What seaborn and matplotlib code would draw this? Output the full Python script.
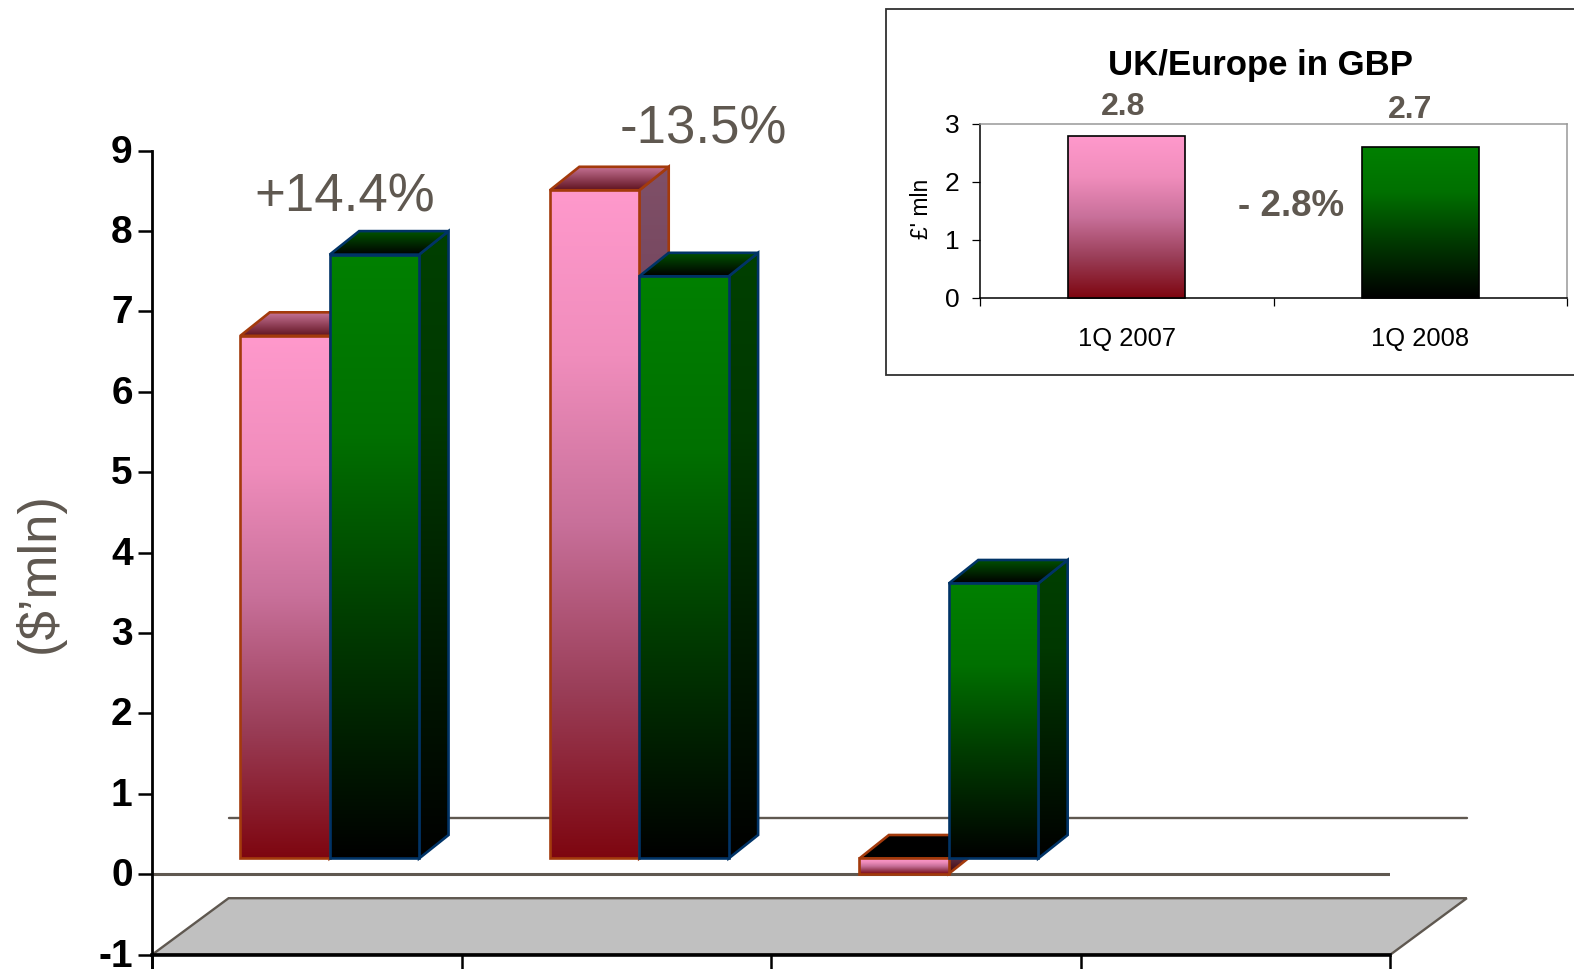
import numpy as np
import pandas as pd
import matplotlib
matplotlib.use("Agg")
import matplotlib.pyplot as plt
from matplotlib.colors import LinearSegmentedColormap, ListedColormap, to_hex
from matplotlib.patches import Polygon, Rectangle
from matplotlib.transforms import Affine2D, IdentityTransform
import seaborn as sns

# ---------- data ----------
categories = ["A", "B", "C", "D"]
series_names = ["1Q 2007", "1Q 2008"]
series_2007 = [6.5, 8.31, -0.19, np.nan]
series_2008 = [7.51, 7.24, 3.42, np.nan]
main_ticks = [-1, 0, 1, 2, 3, 4, 5, 6, 7, 8, 9]

inset_periods = ["1Q 2007", "1Q 2008"]
inset_values = [2.79, 2.60]
inset_labels = ["2.8", "2.7"]
inset_ticks = [0, 1, 2, 3]

# ---------- style ----------
W, H = 1574, 969
sns.set_style("white")
plt.rcParams["font.family"] = ["Liberation Sans", "DejaVu Sans"]
GREY = "#5F5850"
PINK_EDGE = "#A33A0C"
GREEN_EDGE = "#003366"

fig = plt.figure(figsize=(W / 100, H / 100), dpi=100, facecolor="white")


def axes_px(left, right, top, bottom):
    return fig.add_axes([left / W, 1 - bottom / H, (right - left) / W, (bottom - top) / H])


def ftext(x, y, s, **kw):
    kw.setdefault("ha", "center")
    kw.setdefault("va", "center")
    fig.text(x / W, 1 - y / H, s, **kw)


pink_cm = LinearSegmentedColormap.from_list(
    "p", [(0, "#7E0610"), (0.25, "#9A3E58"), (0.5, "#C8709A"), (0.75, "#F08DBC"), (1, "#FF99CC")])
green_cm = LinearSegmentedColormap.from_list(
    "g", [(0, "#000000"), (0.4, "#003E00"), (0.7, "#007000"), (1, "#008000")])
pink_side = LinearSegmentedColormap.from_list(
    "ps", [(0, "#400308"), (0.5, "#643850"), (1, "#805068")])
green_side = LinearSegmentedColormap.from_list(
    "gs", [(0, "#000000"), (0.4, "#001F00"), (0.7, "#003800"), (1, "#004000")])
pink_top = LinearSegmentedColormap.from_list("pt", ["#601420", "#C87498"])
green_top = LinearSegmentedColormap.from_list("gt", ["#000000", "#005400"])
black_top = ListedColormap(["#000000"])
ramp = np.linspace(1, 0, 256).reshape(-1, 1)


def shade(ax, pts, cmap, edge, z, lw=1.9):
    """Fill a polygon given in display pixels with a vertical gradient."""
    pts = np.asarray(pts)
    poly = Polygon(pts, closed=True, transform=IdentityTransform(), facecolor="none",
                   edgecolor=edge, lw=lw, zorder=z + 0.1, clip_on=False, joinstyle="miter")
    ax.add_patch(poly)
    im = ax.imshow(ramp, cmap=cmap, vmin=0, vmax=1, aspect="auto", interpolation="bilinear",
                   extent=(pts[:, 0].min(), pts[:, 0].max(), pts[:, 1].min(), pts[:, 1].max()),
                   transform=IdentityTransform(), zorder=z)
    im.set_clip_path(poly)


# ---------- main chart ----------
ax = axes_px(152.1, 1390.3, 150.6, 954.7)
main_df = pd.DataFrame({
    "category": categories * 2,
    "series": [series_names[0]] * 4 + [series_names[1]] * 4,
    "value": series_2007 + series_2008,
})
sns.barplot(data=main_df, x="category", y="value", hue="series", order=categories,
            hue_order=series_names, palette=["#FF99CC", "#008000"], width=0.5775, gap=0,
            saturation=1, legend=False, ax=ax, errorbar=None)
ax.set_xlim(-0.5, 3.5)
ax.set_ylim(-1, 9)
ax.set_xlabel("")
ax.set_ylabel("")
ax.set_xticks([-0.5, 0.5, 1.5, 2.5, 3.5], [""] * 5)
ax.set_yticks(main_ticks)
ax.set_yticklabels([str(t) for t in main_ticks], fontsize=28, fontweight="bold", color="black")
ax.tick_params(axis="both", which="major", direction="out", length=10, width=1.8,
               color="black", left=True, bottom=True, pad=4)
for lab in ax.get_yticklabels():
    lab.set_transform(lab.get_transform() + Affine2D().translate(0, 2))
ax.spines["top"].set_visible(False)
ax.spines["right"].set_visible(False)
ax.spines["left"].set_color("black")
ax.spines["bottom"].set_color("black")
ax.spines["left"].set_linewidth(2.0)
ax.spines["bottom"].set_linewidth(2.6)
ax.spines["left"].set_bounds(-1.18, 9)
ax.patch.set_alpha(0)

# depth constants (px): floor depth, bar base shift, bar depth
FLOOR = np.array([76.5, 56.5])
SHIFT = np.array([22.8, 15.8])
DEPTH = np.array([29.5, 23.5])


def px(x, y):
    return ax.transData.transform((x, y))


x0, x1 = ax.get_xlim()
ymin = ax.get_ylim()[0]
floor_pts = [px(x0, ymin), px(x1, ymin), px(x1, ymin) + FLOOR, px(x0, ymin) + FLOOR]
ax.add_patch(Polygon(floor_pts, closed=True, transform=IdentityTransform(), facecolor="#C0C0C0",
                     edgecolor=GREY, lw=1.7, zorder=1, clip_on=False))
ax.axhline(0, color=GREY, lw=2.2, zorder=1.2)
wall = np.array([px(x0, 0) + FLOOR, px(x1, 0) + FLOOR])
ax.plot(wall[:, 0], wall[:, 1], transform=IdentityTransform(), color=GREY, lw=1.7,
        zorder=1.2, clip_on=False, scalex=False, scaley=False)

bars = sorted([p for p in ax.patches if isinstance(p, Rectangle) and p.get_width() > 0
               and np.isfinite(p.get_height())], key=lambda p: p.get_x())
bars = [b for b in bars if b.get_height() != 0]
z = 3.0
for b in bars:
    is_pink = to_hex(b.get_facecolor()).lower() == "#ff99cc"
    left, right = b.get_x(), b.get_x() + b.get_width()
    low, high = sorted((b.get_y(), b.get_y() + b.get_height()))
    fl, fr = px(left, low) + SHIFT, px(right, low) + SHIFT
    tl, tr = px(left, high) + SHIFT, px(right, high) + SHIFT
    edge = PINK_EDGE if is_pink else GREEN_EDGE
    b.set_visible(False)
    shade(ax, [fr, fr + DEPTH, tr + DEPTH, tr], pink_side if is_pink else green_side, edge, z)
    top_cm = black_top if (is_pink and b.get_height() < 0) else (pink_top if is_pink else green_top)
    shade(ax, [tl, tr, tr + DEPTH, tl + DEPTH], top_cm, edge, z + 0.2)
    shade(ax, [fl, fr, tr, tl], pink_cm if is_pink else green_cm, edge, z + 0.4)
    z += 1

ftext(345, 198, "+14.4%", fontsize=38, color=GREY)
ftext(703.5, 130, "-13.5%", fontsize=38, color=GREY)
ftext(39, 572.5, "($\u2019mln)", fontsize=38, color=GREY, rotation=90, parse_math=False)

# ---------- inset ----------
fig.add_artist(Rectangle((886 / W, 1 - 375 / H), 700 / W, 366 / H, transform=fig.transFigure,
                         facecolor="white", edgecolor="#303030", lw=1.3, zorder=20))
ins = axes_px(980, 1567, 123.5, 297.6)
ins.set_zorder(21)
ins.patch.set_alpha(0)
sns.barplot(x=inset_periods, y=inset_values, hue=inset_periods, order=inset_periods,
            palette=["#FF99CC", "#008000"], width=0.4, dodge=False, saturation=1, legend=False,
            ax=ins, errorbar=None)
ins.set_xlim(-0.5, 1.5)
ins.set_ylim(0, 3)
ins.set_xlabel("")
ins.set_ylabel("")
ins.set_yticks(inset_ticks)
ins.set_yticklabels([str(t) for t in inset_ticks], fontsize=19, color="black")
ins.set_xticks([-0.5, 0.5, 1.5], [""] * 3)
ins.set_xticks([0, 1], inset_periods, minor=True)
ins.tick_params(axis="x", which="minor", length=0, labelsize=18.4, pad=21.5, labelcolor="black")
ins.tick_params(axis="both", which="major", direction="out", length=5.5, width=0.9,
                color="black", left=True, bottom=True, pad=9)
for s, col in (("left", "black"), ("bottom", "black"), ("top", "#999999"), ("right", "#999999")):
    ins.spines[s].set_color(col)
    ins.spines[s].set_linewidth(1.1)
ins_bars = sorted([p for p in ins.patches if isinstance(p, Rectangle)], key=lambda p: p.get_x())
for b, cm_ in zip(ins_bars, (pink_cm, green_cm)):
    p0 = ins.transData.transform((b.get_x(), 0))
    p1 = ins.transData.transform((b.get_x() + b.get_width(), b.get_height()))
    b.set_visible(False)
    shade(ins, [p0, (p1[0], p0[1]), p1, (p0[0], p1[1])], cm_, "black", 3, lw=1.2)

ftext(1260.5, 65.5, "UK/Europe in GBP", fontsize=25, fontweight="bold", color="black", zorder=22)
ftext(1123, 107, inset_labels[0], fontsize=23, fontweight="bold", color=GREY, zorder=22)
ftext(1410, 110, inset_labels[1], fontsize=23, fontweight="bold", color=GREY, zorder=22)
ftext(1291, 206, "- 2.8%", fontsize=26.5, fontweight="bold", color=GREY, zorder=22)
ftext(922, 209, "\u00a3' mln", fontsize=16.5, color="black", rotation=90, zorder=22)

fig.savefig("out.png", dpi=100, facecolor="white")
